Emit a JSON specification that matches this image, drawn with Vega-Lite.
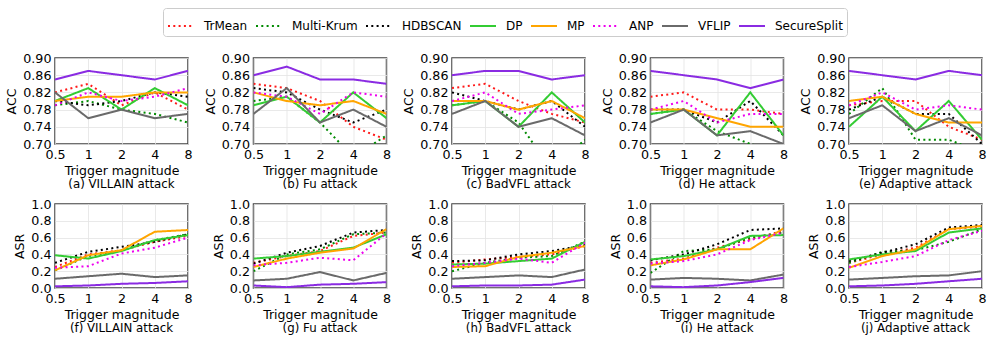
{
"$schema": "https://vega.github.io/schema/vega-lite/v6.json",
"padding": {"left": 5, "top": 7, "right": 6, "bottom": 6},
"bounds": "flush",
"datasets": {
"acc": [
{"c":"(a) VILLAIN attack","m":"TrMean","x":0.5,"y":0.82},{"c":"(a) VILLAIN attack","m":"TrMean","x":1,"y":0.84},{"c":"(a) VILLAIN attack","m":"TrMean","x":2,"y":0.79},{"c":"(a) VILLAIN attack","m":"TrMean","x":4,"y":0.82},{"c":"(a) VILLAIN attack","m":"TrMean","x":8,"y":0.78},
{"c":"(a) VILLAIN attack","m":"Multi-Krum","x":0.5,"y":0.79},{"c":"(a) VILLAIN attack","m":"Multi-Krum","x":1,"y":0.80},{"c":"(a) VILLAIN attack","m":"Multi-Krum","x":2,"y":0.78},{"c":"(a) VILLAIN attack","m":"Multi-Krum","x":4,"y":0.77},{"c":"(a) VILLAIN attack","m":"Multi-Krum","x":8,"y":0.75},
{"c":"(a) VILLAIN attack","m":"HDBSCAN","x":0.5,"y":0.80},{"c":"(a) VILLAIN attack","m":"HDBSCAN","x":1,"y":0.79},{"c":"(a) VILLAIN attack","m":"HDBSCAN","x":2,"y":0.80},{"c":"(a) VILLAIN attack","m":"HDBSCAN","x":4,"y":0.82},{"c":"(a) VILLAIN attack","m":"HDBSCAN","x":8,"y":0.81},
{"c":"(a) VILLAIN attack","m":"DP","x":0.5,"y":0.80},{"c":"(a) VILLAIN attack","m":"DP","x":1,"y":0.83},{"c":"(a) VILLAIN attack","m":"DP","x":2,"y":0.78},{"c":"(a) VILLAIN attack","m":"DP","x":4,"y":0.83},{"c":"(a) VILLAIN attack","m":"DP","x":8,"y":0.79},
{"c":"(a) VILLAIN attack","m":"MP","x":0.5,"y":0.80},{"c":"(a) VILLAIN attack","m":"MP","x":1,"y":0.81},{"c":"(a) VILLAIN attack","m":"MP","x":2,"y":0.81},{"c":"(a) VILLAIN attack","m":"MP","x":4,"y":0.82},{"c":"(a) VILLAIN attack","m":"MP","x":8,"y":0.82},
{"c":"(a) VILLAIN attack","m":"ANP","x":0.5,"y":0.79},{"c":"(a) VILLAIN attack","m":"ANP","x":1,"y":0.82},{"c":"(a) VILLAIN attack","m":"ANP","x":2,"y":0.80},{"c":"(a) VILLAIN attack","m":"ANP","x":4,"y":0.81},{"c":"(a) VILLAIN attack","m":"ANP","x":8,"y":0.83},
{"c":"(a) VILLAIN attack","m":"VFLIP","x":0.5,"y":0.82},{"c":"(a) VILLAIN attack","m":"VFLIP","x":1,"y":0.76},{"c":"(a) VILLAIN attack","m":"VFLIP","x":2,"y":0.78},{"c":"(a) VILLAIN attack","m":"VFLIP","x":4,"y":0.76},{"c":"(a) VILLAIN attack","m":"VFLIP","x":8,"y":0.77},
{"c":"(a) VILLAIN attack","m":"SecureSplit","x":0.5,"y":0.85},{"c":"(a) VILLAIN attack","m":"SecureSplit","x":1,"y":0.87},{"c":"(a) VILLAIN attack","m":"SecureSplit","x":2,"y":0.86},{"c":"(a) VILLAIN attack","m":"SecureSplit","x":4,"y":0.85},{"c":"(a) VILLAIN attack","m":"SecureSplit","x":8,"y":0.87},
{"c":"(b) Fu attack","m":"TrMean","x":0.5,"y":0.84},{"c":"(b) Fu attack","m":"TrMean","x":1,"y":0.83},{"c":"(b) Fu attack","m":"TrMean","x":2,"y":0.80},{"c":"(b) Fu attack","m":"TrMean","x":4,"y":0.74},{"c":"(b) Fu attack","m":"TrMean","x":8,"y":0.71},
{"c":"(b) Fu attack","m":"Multi-Krum","x":0.5,"y":0.80},{"c":"(b) Fu attack","m":"Multi-Krum","x":1,"y":0.81},{"c":"(b) Fu attack","m":"Multi-Krum","x":2,"y":0.75},{"c":"(b) Fu attack","m":"Multi-Krum","x":4,"y":0.67},{"c":"(b) Fu attack","m":"Multi-Krum","x":8,"y":0.72},
{"c":"(b) Fu attack","m":"HDBSCAN","x":0.5,"y":0.83},{"c":"(b) Fu attack","m":"HDBSCAN","x":1,"y":0.82},{"c":"(b) Fu attack","m":"HDBSCAN","x":2,"y":0.78},{"c":"(b) Fu attack","m":"HDBSCAN","x":4,"y":0.75},{"c":"(b) Fu attack","m":"HDBSCAN","x":8,"y":0.78},
{"c":"(b) Fu attack","m":"DP","x":0.5,"y":0.79},{"c":"(b) Fu attack","m":"DP","x":1,"y":0.81},{"c":"(b) Fu attack","m":"DP","x":2,"y":0.75},{"c":"(b) Fu attack","m":"DP","x":4,"y":0.82},{"c":"(b) Fu attack","m":"DP","x":8,"y":0.76},
{"c":"(b) Fu attack","m":"MP","x":0.5,"y":0.82},{"c":"(b) Fu attack","m":"MP","x":1,"y":0.80},{"c":"(b) Fu attack","m":"MP","x":2,"y":0.79},{"c":"(b) Fu attack","m":"MP","x":4,"y":0.80},{"c":"(b) Fu attack","m":"MP","x":8,"y":0.77},
{"c":"(b) Fu attack","m":"ANP","x":0.5,"y":0.82},{"c":"(b) Fu attack","m":"ANP","x":1,"y":0.81},{"c":"(b) Fu attack","m":"ANP","x":2,"y":0.77},{"c":"(b) Fu attack","m":"ANP","x":4,"y":0.82},{"c":"(b) Fu attack","m":"ANP","x":8,"y":0.81},
{"c":"(b) Fu attack","m":"VFLIP","x":0.5,"y":0.77},{"c":"(b) Fu attack","m":"VFLIP","x":1,"y":0.83},{"c":"(b) Fu attack","m":"VFLIP","x":2,"y":0.75},{"c":"(b) Fu attack","m":"VFLIP","x":4,"y":0.78},{"c":"(b) Fu attack","m":"VFLIP","x":8,"y":0.74},
{"c":"(b) Fu attack","m":"SecureSplit","x":0.5,"y":0.86},{"c":"(b) Fu attack","m":"SecureSplit","x":1,"y":0.88},{"c":"(b) Fu attack","m":"SecureSplit","x":2,"y":0.85},{"c":"(b) Fu attack","m":"SecureSplit","x":4,"y":0.85},{"c":"(b) Fu attack","m":"SecureSplit","x":8,"y":0.84},
{"c":"(c) BadVFL attack","m":"TrMean","x":0.5,"y":0.83},{"c":"(c) BadVFL attack","m":"TrMean","x":1,"y":0.84},{"c":"(c) BadVFL attack","m":"TrMean","x":2,"y":0.80},{"c":"(c) BadVFL attack","m":"TrMean","x":4,"y":0.77},{"c":"(c) BadVFL attack","m":"TrMean","x":8,"y":0.75},
{"c":"(c) BadVFL attack","m":"Multi-Krum","x":0.5,"y":0.79},{"c":"(c) BadVFL attack","m":"Multi-Krum","x":1,"y":0.80},{"c":"(c) BadVFL attack","m":"Multi-Krum","x":2,"y":0.75},{"c":"(c) BadVFL attack","m":"Multi-Krum","x":4,"y":0.64},{"c":"(c) BadVFL attack","m":"Multi-Krum","x":8,"y":0.71},
{"c":"(c) BadVFL attack","m":"HDBSCAN","x":0.5,"y":0.82},{"c":"(c) BadVFL attack","m":"HDBSCAN","x":1,"y":0.80},{"c":"(c) BadVFL attack","m":"HDBSCAN","x":2,"y":0.78},{"c":"(c) BadVFL attack","m":"HDBSCAN","x":4,"y":0.80},{"c":"(c) BadVFL attack","m":"HDBSCAN","x":8,"y":0.74},
{"c":"(c) BadVFL attack","m":"DP","x":0.5,"y":0.79},{"c":"(c) BadVFL attack","m":"DP","x":1,"y":0.80},{"c":"(c) BadVFL attack","m":"DP","x":2,"y":0.74},{"c":"(c) BadVFL attack","m":"DP","x":4,"y":0.82},{"c":"(c) BadVFL attack","m":"DP","x":8,"y":0.75},
{"c":"(c) BadVFL attack","m":"MP","x":0.5,"y":0.80},{"c":"(c) BadVFL attack","m":"MP","x":1,"y":0.80},{"c":"(c) BadVFL attack","m":"MP","x":2,"y":0.78},{"c":"(c) BadVFL attack","m":"MP","x":4,"y":0.80},{"c":"(c) BadVFL attack","m":"MP","x":8,"y":0.76},
{"c":"(c) BadVFL attack","m":"ANP","x":0.5,"y":0.80},{"c":"(c) BadVFL attack","m":"ANP","x":1,"y":0.82},{"c":"(c) BadVFL attack","m":"ANP","x":2,"y":0.77},{"c":"(c) BadVFL attack","m":"ANP","x":4,"y":0.78},{"c":"(c) BadVFL attack","m":"ANP","x":8,"y":0.79},
{"c":"(c) BadVFL attack","m":"VFLIP","x":0.5,"y":0.77},{"c":"(c) BadVFL attack","m":"VFLIP","x":1,"y":0.80},{"c":"(c) BadVFL attack","m":"VFLIP","x":2,"y":0.74},{"c":"(c) BadVFL attack","m":"VFLIP","x":4,"y":0.76},{"c":"(c) BadVFL attack","m":"VFLIP","x":8,"y":0.72},
{"c":"(c) BadVFL attack","m":"SecureSplit","x":0.5,"y":0.86},{"c":"(c) BadVFL attack","m":"SecureSplit","x":1,"y":0.87},{"c":"(c) BadVFL attack","m":"SecureSplit","x":2,"y":0.87},{"c":"(c) BadVFL attack","m":"SecureSplit","x":4,"y":0.85},{"c":"(c) BadVFL attack","m":"SecureSplit","x":8,"y":0.86},
{"c":"(d) He attack","m":"TrMean","x":0.5,"y":0.81},{"c":"(d) He attack","m":"TrMean","x":1,"y":0.82},{"c":"(d) He attack","m":"TrMean","x":2,"y":0.78},{"c":"(d) He attack","m":"TrMean","x":4,"y":0.78},{"c":"(d) He attack","m":"TrMean","x":8,"y":0.77},
{"c":"(d) He attack","m":"Multi-Krum","x":0.5,"y":0.77},{"c":"(d) He attack","m":"Multi-Krum","x":1,"y":0.78},{"c":"(d) He attack","m":"Multi-Krum","x":2,"y":0.73},{"c":"(d) He attack","m":"Multi-Krum","x":4,"y":0.70},{"c":"(d) He attack","m":"Multi-Krum","x":8,"y":0.68},
{"c":"(d) He attack","m":"HDBSCAN","x":0.5,"y":0.78},{"c":"(d) He attack","m":"HDBSCAN","x":1,"y":0.78},{"c":"(d) He attack","m":"HDBSCAN","x":2,"y":0.75},{"c":"(d) He attack","m":"HDBSCAN","x":4,"y":0.80},{"c":"(d) He attack","m":"HDBSCAN","x":8,"y":0.72},
{"c":"(d) He attack","m":"DP","x":0.5,"y":0.77},{"c":"(d) He attack","m":"DP","x":1,"y":0.78},{"c":"(d) He attack","m":"DP","x":2,"y":0.72},{"c":"(d) He attack","m":"DP","x":4,"y":0.82},{"c":"(d) He attack","m":"DP","x":8,"y":0.72},
{"c":"(d) He attack","m":"MP","x":0.5,"y":0.78},{"c":"(d) He attack","m":"MP","x":1,"y":0.78},{"c":"(d) He attack","m":"MP","x":2,"y":0.76},{"c":"(d) He attack","m":"MP","x":4,"y":0.74},{"c":"(d) He attack","m":"MP","x":8,"y":0.74},
{"c":"(d) He attack","m":"ANP","x":0.5,"y":0.78},{"c":"(d) He attack","m":"ANP","x":1,"y":0.80},{"c":"(d) He attack","m":"ANP","x":2,"y":0.75},{"c":"(d) He attack","m":"ANP","x":4,"y":0.77},{"c":"(d) He attack","m":"ANP","x":8,"y":0.77},
{"c":"(d) He attack","m":"VFLIP","x":0.5,"y":0.75},{"c":"(d) He attack","m":"VFLIP","x":1,"y":0.78},{"c":"(d) He attack","m":"VFLIP","x":2,"y":0.72},{"c":"(d) He attack","m":"VFLIP","x":4,"y":0.73},{"c":"(d) He attack","m":"VFLIP","x":8,"y":0.70},
{"c":"(d) He attack","m":"SecureSplit","x":0.5,"y":0.87},{"c":"(d) He attack","m":"SecureSplit","x":1,"y":0.86},{"c":"(d) He attack","m":"SecureSplit","x":2,"y":0.85},{"c":"(d) He attack","m":"SecureSplit","x":4,"y":0.83},{"c":"(d) He attack","m":"SecureSplit","x":8,"y":0.85},
{"c":"(e) Adaptive attack","m":"TrMean","x":0.5,"y":0.79},{"c":"(e) Adaptive attack","m":"TrMean","x":1,"y":0.80},{"c":"(e) Adaptive attack","m":"TrMean","x":2,"y":0.80},{"c":"(e) Adaptive attack","m":"TrMean","x":4,"y":0.74},{"c":"(e) Adaptive attack","m":"TrMean","x":8,"y":0.71},
{"c":"(e) Adaptive attack","m":"Multi-Krum","x":0.5,"y":0.77},{"c":"(e) Adaptive attack","m":"Multi-Krum","x":1,"y":0.83},{"c":"(e) Adaptive attack","m":"Multi-Krum","x":2,"y":0.71},{"c":"(e) Adaptive attack","m":"Multi-Krum","x":4,"y":0.71},{"c":"(e) Adaptive attack","m":"Multi-Krum","x":8,"y":0.68},
{"c":"(e) Adaptive attack","m":"HDBSCAN","x":0.5,"y":0.78},{"c":"(e) Adaptive attack","m":"HDBSCAN","x":1,"y":0.81},{"c":"(e) Adaptive attack","m":"HDBSCAN","x":2,"y":0.77},{"c":"(e) Adaptive attack","m":"HDBSCAN","x":4,"y":0.77},{"c":"(e) Adaptive attack","m":"HDBSCAN","x":8,"y":0.70},
{"c":"(e) Adaptive attack","m":"DP","x":0.5,"y":0.74},{"c":"(e) Adaptive attack","m":"DP","x":1,"y":0.81},{"c":"(e) Adaptive attack","m":"DP","x":2,"y":0.73},{"c":"(e) Adaptive attack","m":"DP","x":4,"y":0.80},{"c":"(e) Adaptive attack","m":"DP","x":8,"y":0.71},
{"c":"(e) Adaptive attack","m":"MP","x":0.5,"y":0.80},{"c":"(e) Adaptive attack","m":"MP","x":1,"y":0.81},{"c":"(e) Adaptive attack","m":"MP","x":2,"y":0.77},{"c":"(e) Adaptive attack","m":"MP","x":4,"y":0.75},{"c":"(e) Adaptive attack","m":"MP","x":8,"y":0.75},
{"c":"(e) Adaptive attack","m":"ANP","x":0.5,"y":0.79},{"c":"(e) Adaptive attack","m":"ANP","x":1,"y":0.82},{"c":"(e) Adaptive attack","m":"ANP","x":2,"y":0.78},{"c":"(e) Adaptive attack","m":"ANP","x":4,"y":0.79},{"c":"(e) Adaptive attack","m":"ANP","x":8,"y":0.78},
{"c":"(e) Adaptive attack","m":"VFLIP","x":0.5,"y":0.76},{"c":"(e) Adaptive attack","m":"VFLIP","x":1,"y":0.79},{"c":"(e) Adaptive attack","m":"VFLIP","x":2,"y":0.73},{"c":"(e) Adaptive attack","m":"VFLIP","x":4,"y":0.76},{"c":"(e) Adaptive attack","m":"VFLIP","x":8,"y":0.72},
{"c":"(e) Adaptive attack","m":"SecureSplit","x":0.5,"y":0.87},{"c":"(e) Adaptive attack","m":"SecureSplit","x":1,"y":0.86},{"c":"(e) Adaptive attack","m":"SecureSplit","x":2,"y":0.85},{"c":"(e) Adaptive attack","m":"SecureSplit","x":4,"y":0.87},{"c":"(e) Adaptive attack","m":"SecureSplit","x":8,"y":0.86}
],
"asr": [
{"c":"(f) VILLAIN attack","m":"TrMean","x":0.5,"y":0.25},{"c":"(f) VILLAIN attack","m":"TrMean","x":1,"y":0.40},{"c":"(f) VILLAIN attack","m":"TrMean","x":2,"y":0.45},{"c":"(f) VILLAIN attack","m":"TrMean","x":4,"y":0.55},{"c":"(f) VILLAIN attack","m":"TrMean","x":8,"y":0.62},
{"c":"(f) VILLAIN attack","m":"Multi-Krum","x":0.5,"y":0.21},{"c":"(f) VILLAIN attack","m":"Multi-Krum","x":1,"y":0.38},{"c":"(f) VILLAIN attack","m":"Multi-Krum","x":2,"y":0.45},{"c":"(f) VILLAIN attack","m":"Multi-Krum","x":4,"y":0.57},{"c":"(f) VILLAIN attack","m":"Multi-Krum","x":8,"y":0.64},
{"c":"(f) VILLAIN attack","m":"HDBSCAN","x":0.5,"y":0.30},{"c":"(f) VILLAIN attack","m":"HDBSCAN","x":1,"y":0.43},{"c":"(f) VILLAIN attack","m":"HDBSCAN","x":2,"y":0.49},{"c":"(f) VILLAIN attack","m":"HDBSCAN","x":4,"y":0.55},{"c":"(f) VILLAIN attack","m":"HDBSCAN","x":8,"y":0.64},
{"c":"(f) VILLAIN attack","m":"DP","x":0.5,"y":0.39},{"c":"(f) VILLAIN attack","m":"DP","x":1,"y":0.35},{"c":"(f) VILLAIN attack","m":"DP","x":2,"y":0.44},{"c":"(f) VILLAIN attack","m":"DP","x":4,"y":0.57},{"c":"(f) VILLAIN attack","m":"DP","x":8,"y":0.63},
{"c":"(f) VILLAIN attack","m":"MP","x":0.5,"y":0.21},{"c":"(f) VILLAIN attack","m":"MP","x":1,"y":0.39},{"c":"(f) VILLAIN attack","m":"MP","x":2,"y":0.45},{"c":"(f) VILLAIN attack","m":"MP","x":4,"y":0.67},{"c":"(f) VILLAIN attack","m":"MP","x":8,"y":0.69},
{"c":"(f) VILLAIN attack","m":"ANP","x":0.5,"y":0.24},{"c":"(f) VILLAIN attack","m":"ANP","x":1,"y":0.26},{"c":"(f) VILLAIN attack","m":"ANP","x":2,"y":0.41},{"c":"(f) VILLAIN attack","m":"ANP","x":4,"y":0.48},{"c":"(f) VILLAIN attack","m":"ANP","x":8,"y":0.60},
{"c":"(f) VILLAIN attack","m":"VFLIP","x":0.5,"y":0.11},{"c":"(f) VILLAIN attack","m":"VFLIP","x":1,"y":0.14},{"c":"(f) VILLAIN attack","m":"VFLIP","x":2,"y":0.17},{"c":"(f) VILLAIN attack","m":"VFLIP","x":4,"y":0.13},{"c":"(f) VILLAIN attack","m":"VFLIP","x":8,"y":0.15},
{"c":"(f) VILLAIN attack","m":"SecureSplit","x":0.5,"y":0.02},{"c":"(f) VILLAIN attack","m":"SecureSplit","x":1,"y":0.03},{"c":"(f) VILLAIN attack","m":"SecureSplit","x":2,"y":0.05},{"c":"(f) VILLAIN attack","m":"SecureSplit","x":4,"y":0.06},{"c":"(f) VILLAIN attack","m":"SecureSplit","x":8,"y":0.08},
{"c":"(g) Fu attack","m":"TrMean","x":0.5,"y":0.30},{"c":"(g) Fu attack","m":"TrMean","x":1,"y":0.38},{"c":"(g) Fu attack","m":"TrMean","x":2,"y":0.44},{"c":"(g) Fu attack","m":"TrMean","x":4,"y":0.62},{"c":"(g) Fu attack","m":"TrMean","x":8,"y":0.66},
{"c":"(g) Fu attack","m":"Multi-Krum","x":0.5,"y":0.20},{"c":"(g) Fu attack","m":"Multi-Krum","x":1,"y":0.40},{"c":"(g) Fu attack","m":"Multi-Krum","x":2,"y":0.46},{"c":"(g) Fu attack","m":"Multi-Krum","x":4,"y":0.64},{"c":"(g) Fu attack","m":"Multi-Krum","x":8,"y":0.66},
{"c":"(g) Fu attack","m":"HDBSCAN","x":0.5,"y":0.29},{"c":"(g) Fu attack","m":"HDBSCAN","x":1,"y":0.42},{"c":"(g) Fu attack","m":"HDBSCAN","x":2,"y":0.50},{"c":"(g) Fu attack","m":"HDBSCAN","x":4,"y":0.66},{"c":"(g) Fu attack","m":"HDBSCAN","x":8,"y":0.69},
{"c":"(g) Fu attack","m":"DP","x":0.5,"y":0.35},{"c":"(g) Fu attack","m":"DP","x":1,"y":0.38},{"c":"(g) Fu attack","m":"DP","x":2,"y":0.43},{"c":"(g) Fu attack","m":"DP","x":4,"y":0.48},{"c":"(g) Fu attack","m":"DP","x":8,"y":0.64},
{"c":"(g) Fu attack","m":"MP","x":0.5,"y":0.25},{"c":"(g) Fu attack","m":"MP","x":1,"y":0.35},{"c":"(g) Fu attack","m":"MP","x":2,"y":0.42},{"c":"(g) Fu attack","m":"MP","x":4,"y":0.47},{"c":"(g) Fu attack","m":"MP","x":8,"y":0.70},
{"c":"(g) Fu attack","m":"ANP","x":0.5,"y":0.27},{"c":"(g) Fu attack","m":"ANP","x":1,"y":0.30},{"c":"(g) Fu attack","m":"ANP","x":2,"y":0.36},{"c":"(g) Fu attack","m":"ANP","x":4,"y":0.33},{"c":"(g) Fu attack","m":"ANP","x":8,"y":0.65},
{"c":"(g) Fu attack","m":"VFLIP","x":0.5,"y":0.09},{"c":"(g) Fu attack","m":"VFLIP","x":1,"y":0.11},{"c":"(g) Fu attack","m":"VFLIP","x":2,"y":0.19},{"c":"(g) Fu attack","m":"VFLIP","x":4,"y":0.09},{"c":"(g) Fu attack","m":"VFLIP","x":8,"y":0.18},
{"c":"(g) Fu attack","m":"SecureSplit","x":0.5,"y":0.03},{"c":"(g) Fu attack","m":"SecureSplit","x":1,"y":0.01},{"c":"(g) Fu attack","m":"SecureSplit","x":2,"y":0.04},{"c":"(g) Fu attack","m":"SecureSplit","x":4,"y":0.05},{"c":"(g) Fu attack","m":"SecureSplit","x":8,"y":0.07},
{"c":"(h) BadVFL attack","m":"TrMean","x":0.5,"y":0.30},{"c":"(h) BadVFL attack","m":"TrMean","x":1,"y":0.34},{"c":"(h) BadVFL attack","m":"TrMean","x":2,"y":0.37},{"c":"(h) BadVFL attack","m":"TrMean","x":4,"y":0.40},{"c":"(h) BadVFL attack","m":"TrMean","x":8,"y":0.50},
{"c":"(h) BadVFL attack","m":"Multi-Krum","x":0.5,"y":0.20},{"c":"(h) BadVFL attack","m":"Multi-Krum","x":1,"y":0.30},{"c":"(h) BadVFL attack","m":"Multi-Krum","x":2,"y":0.36},{"c":"(h) BadVFL attack","m":"Multi-Krum","x":4,"y":0.38},{"c":"(h) BadVFL attack","m":"Multi-Krum","x":8,"y":0.55},
{"c":"(h) BadVFL attack","m":"HDBSCAN","x":0.5,"y":0.32},{"c":"(h) BadVFL attack","m":"HDBSCAN","x":1,"y":0.33},{"c":"(h) BadVFL attack","m":"HDBSCAN","x":2,"y":0.40},{"c":"(h) BadVFL attack","m":"HDBSCAN","x":4,"y":0.44},{"c":"(h) BadVFL attack","m":"HDBSCAN","x":8,"y":0.51},
{"c":"(h) BadVFL attack","m":"DP","x":0.5,"y":0.28},{"c":"(h) BadVFL attack","m":"DP","x":1,"y":0.29},{"c":"(h) BadVFL attack","m":"DP","x":2,"y":0.32},{"c":"(h) BadVFL attack","m":"DP","x":4,"y":0.35},{"c":"(h) BadVFL attack","m":"DP","x":8,"y":0.55},
{"c":"(h) BadVFL attack","m":"MP","x":0.5,"y":0.25},{"c":"(h) BadVFL attack","m":"MP","x":1,"y":0.26},{"c":"(h) BadVFL attack","m":"MP","x":2,"y":0.37},{"c":"(h) BadVFL attack","m":"MP","x":4,"y":0.42},{"c":"(h) BadVFL attack","m":"MP","x":8,"y":0.50},
{"c":"(h) BadVFL attack","m":"ANP","x":0.5,"y":0.26},{"c":"(h) BadVFL attack","m":"ANP","x":1,"y":0.30},{"c":"(h) BadVFL attack","m":"ANP","x":2,"y":0.35},{"c":"(h) BadVFL attack","m":"ANP","x":4,"y":0.30},{"c":"(h) BadVFL attack","m":"ANP","x":8,"y":0.54},
{"c":"(h) BadVFL attack","m":"VFLIP","x":0.5,"y":0.11},{"c":"(h) BadVFL attack","m":"VFLIP","x":1,"y":0.13},{"c":"(h) BadVFL attack","m":"VFLIP","x":2,"y":0.15},{"c":"(h) BadVFL attack","m":"VFLIP","x":4,"y":0.13},{"c":"(h) BadVFL attack","m":"VFLIP","x":8,"y":0.22},
{"c":"(h) BadVFL attack","m":"SecureSplit","x":0.5,"y":0.02},{"c":"(h) BadVFL attack","m":"SecureSplit","x":1,"y":0.03},{"c":"(h) BadVFL attack","m":"SecureSplit","x":2,"y":0.03},{"c":"(h) BadVFL attack","m":"SecureSplit","x":4,"y":0.04},{"c":"(h) BadVFL attack","m":"SecureSplit","x":8,"y":0.10},
{"c":"(i) He attack","m":"TrMean","x":0.5,"y":0.30},{"c":"(i) He attack","m":"TrMean","x":1,"y":0.35},{"c":"(i) He attack","m":"TrMean","x":2,"y":0.48},{"c":"(i) He attack","m":"TrMean","x":4,"y":0.58},{"c":"(i) He attack","m":"TrMean","x":8,"y":0.68},
{"c":"(i) He attack","m":"Multi-Krum","x":0.5,"y":0.18},{"c":"(i) He attack","m":"Multi-Krum","x":1,"y":0.44},{"c":"(i) He attack","m":"Multi-Krum","x":2,"y":0.46},{"c":"(i) He attack","m":"Multi-Krum","x":4,"y":0.60},{"c":"(i) He attack","m":"Multi-Krum","x":8,"y":0.66},
{"c":"(i) He attack","m":"HDBSCAN","x":0.5,"y":0.33},{"c":"(i) He attack","m":"HDBSCAN","x":1,"y":0.40},{"c":"(i) He attack","m":"HDBSCAN","x":2,"y":0.52},{"c":"(i) He attack","m":"HDBSCAN","x":4,"y":0.69},{"c":"(i) He attack","m":"HDBSCAN","x":8,"y":0.71},
{"c":"(i) He attack","m":"DP","x":0.5,"y":0.34},{"c":"(i) He attack","m":"DP","x":1,"y":0.38},{"c":"(i) He attack","m":"DP","x":2,"y":0.46},{"c":"(i) He attack","m":"DP","x":4,"y":0.62},{"c":"(i) He attack","m":"DP","x":8,"y":0.63},
{"c":"(i) He attack","m":"MP","x":0.5,"y":0.27},{"c":"(i) He attack","m":"MP","x":1,"y":0.34},{"c":"(i) He attack","m":"MP","x":2,"y":0.46},{"c":"(i) He attack","m":"MP","x":4,"y":0.46},{"c":"(i) He attack","m":"MP","x":8,"y":0.71},
{"c":"(i) He attack","m":"ANP","x":0.5,"y":0.29},{"c":"(i) He attack","m":"ANP","x":1,"y":0.32},{"c":"(i) He attack","m":"ANP","x":2,"y":0.40},{"c":"(i) He attack","m":"ANP","x":4,"y":0.57},{"c":"(i) He attack","m":"ANP","x":8,"y":0.66},
{"c":"(i) He attack","m":"VFLIP","x":0.5,"y":0.10},{"c":"(i) He attack","m":"VFLIP","x":1,"y":0.12},{"c":"(i) He attack","m":"VFLIP","x":2,"y":0.11},{"c":"(i) He attack","m":"VFLIP","x":4,"y":0.09},{"c":"(i) He attack","m":"VFLIP","x":8,"y":0.16},
{"c":"(i) He attack","m":"SecureSplit","x":0.5,"y":0.02},{"c":"(i) He attack","m":"SecureSplit","x":1,"y":0.01},{"c":"(i) He attack","m":"SecureSplit","x":2,"y":0.03},{"c":"(i) He attack","m":"SecureSplit","x":4,"y":0.07},{"c":"(i) He attack","m":"SecureSplit","x":8,"y":0.12},
{"c":"(j) Adaptive attack","m":"TrMean","x":0.5,"y":0.30},{"c":"(j) Adaptive attack","m":"TrMean","x":1,"y":0.40},{"c":"(j) Adaptive attack","m":"TrMean","x":2,"y":0.48},{"c":"(j) Adaptive attack","m":"TrMean","x":4,"y":0.70},{"c":"(j) Adaptive attack","m":"TrMean","x":8,"y":0.73},
{"c":"(j) Adaptive attack","m":"Multi-Krum","x":0.5,"y":0.30},{"c":"(j) Adaptive attack","m":"Multi-Krum","x":1,"y":0.43},{"c":"(j) Adaptive attack","m":"Multi-Krum","x":2,"y":0.45},{"c":"(j) Adaptive attack","m":"Multi-Krum","x":4,"y":0.55},{"c":"(j) Adaptive attack","m":"Multi-Krum","x":8,"y":0.70},
{"c":"(j) Adaptive attack","m":"HDBSCAN","x":0.5,"y":0.32},{"c":"(j) Adaptive attack","m":"HDBSCAN","x":1,"y":0.42},{"c":"(j) Adaptive attack","m":"HDBSCAN","x":2,"y":0.52},{"c":"(j) Adaptive attack","m":"HDBSCAN","x":4,"y":0.72},{"c":"(j) Adaptive attack","m":"HDBSCAN","x":8,"y":0.75},
{"c":"(j) Adaptive attack","m":"DP","x":0.5,"y":0.34},{"c":"(j) Adaptive attack","m":"DP","x":1,"y":0.40},{"c":"(j) Adaptive attack","m":"DP","x":2,"y":0.44},{"c":"(j) Adaptive attack","m":"DP","x":4,"y":0.66},{"c":"(j) Adaptive attack","m":"DP","x":8,"y":0.71},
{"c":"(j) Adaptive attack","m":"MP","x":0.5,"y":0.24},{"c":"(j) Adaptive attack","m":"MP","x":1,"y":0.38},{"c":"(j) Adaptive attack","m":"MP","x":2,"y":0.46},{"c":"(j) Adaptive attack","m":"MP","x":4,"y":0.70},{"c":"(j) Adaptive attack","m":"MP","x":8,"y":0.74},
{"c":"(j) Adaptive attack","m":"ANP","x":0.5,"y":0.25},{"c":"(j) Adaptive attack","m":"ANP","x":1,"y":0.31},{"c":"(j) Adaptive attack","m":"ANP","x":2,"y":0.38},{"c":"(j) Adaptive attack","m":"ANP","x":4,"y":0.57},{"c":"(j) Adaptive attack","m":"ANP","x":8,"y":0.68},
{"c":"(j) Adaptive attack","m":"VFLIP","x":0.5,"y":0.10},{"c":"(j) Adaptive attack","m":"VFLIP","x":1,"y":0.12},{"c":"(j) Adaptive attack","m":"VFLIP","x":2,"y":0.14},{"c":"(j) Adaptive attack","m":"VFLIP","x":4,"y":0.15},{"c":"(j) Adaptive attack","m":"VFLIP","x":8,"y":0.20},
{"c":"(j) Adaptive attack","m":"SecureSplit","x":0.5,"y":0.02},{"c":"(j) Adaptive attack","m":"SecureSplit","x":1,"y":0.03},{"c":"(j) Adaptive attack","m":"SecureSplit","x":2,"y":0.05},{"c":"(j) Adaptive attack","m":"SecureSplit","x":4,"y":0.08},{"c":"(j) Adaptive attack","m":"SecureSplit","x":8,"y":0.11}
]
},
"vconcat": [
{
"data": {"name": "acc"},
"facet": {"column": {"field": "c", "type": "nominal", "title": null, "header": {"labelOrient": "bottom", "labelPadding": 35}}},
"spacing": 65.5,
"bounds": "flush",
"resolve": {"axis": {"x": "independent", "y": "independent"}},
"spec": {
"width": 133, "height": 86,
"mark": {"type": "line", "clip": true, "strokeWidth": 2},
"encoding": {
"x": {"field": "x", "type": "quantitative", "scale": {"type": "log", "base": 2, "domain": [0.5, 8], "nice": false}, "axis": {"values": [0.5, 1, 2, 4, 8], "format": "~g", "title": "Trigger magnitude"}},
"y": {"field": "y", "type": "quantitative", "scale": {"domain": [0.70, 0.90], "nice": false, "zero": false}, "axis": {"values": [0.70, 0.74, 0.78, 0.82, 0.86, 0.90], "format": ".2f", "title": "ACC"}},
"color": {"field": "m", "type": "nominal", "scale": {"domain": ["TrMean", "Multi-Krum", "HDBSCAN", "DP", "MP", "ANP", "VFLIP", "SecureSplit"], "range": ["#ff1a1a", "#008a00", "#000000", "#33cc33", "#ffa500", "#ee00ee", "#6a6a6a", "#8a2be2"]}, "legend": {"orient": "none", "legendX": 108, "legendY": -50, "direction": "horizontal", "columns": 8, "title": null}},
"strokeDash": {"field": "m", "type": "nominal", "scale": {"domain": ["TrMean", "Multi-Krum", "HDBSCAN", "DP", "MP", "ANP", "VFLIP", "SecureSplit"], "range": [[2, 3.3], [2, 3.3], [2, 3.3], [1, 0], [1, 0], [2, 3.3], [1, 0], [1, 0]]}, "legend": {"orient": "none", "legendX": 108, "legendY": -50, "direction": "horizontal", "columns": 8, "title": null}}
}
}
},
{
"data": {"name": "asr"},
"facet": {"column": {"field": "c", "type": "nominal", "title": null, "header": {"labelOrient": "bottom", "labelPadding": 35}}},
"spacing": 65.5,
"bounds": "flush",
"resolve": {"axis": {"x": "independent", "y": "independent"}},
"spec": {
"width": 133, "height": 84,
"mark": {"type": "line", "clip": true, "strokeWidth": 2},
"encoding": {
"x": {"field": "x", "type": "quantitative", "scale": {"type": "log", "base": 2, "domain": [0.5, 8], "nice": false}, "axis": {"values": [0.5, 1, 2, 4, 8], "format": "~g", "title": "Trigger magnitude"}},
"y": {"field": "y", "type": "quantitative", "scale": {"domain": [0, 1], "nice": false}, "axis": {"values": [0, 0.2, 0.4, 0.6, 0.8, 1.0], "format": ".1f", "title": "ASR"}},
"color": {"field": "m", "type": "nominal", "scale": {"domain": ["TrMean", "Multi-Krum", "HDBSCAN", "DP", "MP", "ANP", "VFLIP", "SecureSplit"], "range": ["#ff1a1a", "#008a00", "#000000", "#33cc33", "#ffa500", "#ee00ee", "#6a6a6a", "#8a2be2"]}, "legend": {"orient": "none", "legendX": 108, "legendY": -50, "direction": "horizontal", "columns": 8, "title": null}},
"strokeDash": {"field": "m", "type": "nominal", "scale": {"domain": ["TrMean", "Multi-Krum", "HDBSCAN", "DP", "MP", "ANP", "VFLIP", "SecureSplit"], "range": [[2, 3.3], [2, 3.3], [2, 3.3], [1, 0], [1, 0], [2, 3.3], [1, 0], [1, 0]]}, "legend": {"orient": "none", "legendX": 108, "legendY": -50, "direction": "horizontal", "columns": 8, "title": null}}
}
}
}
],
"spacing": 146,
"config": {
"font": "DejaVu Sans",
"view": {"stroke": "#404040", "strokeWidth": 1.5},
"axis": {"grid": true, "gridColor": "#e3e3e3", "gridWidth": 0.8, "domain": false, "ticks": false, "labelFontSize": 12.7, "titleFontSize": 12.5, "titleFontWeight": "normal", "labelColor": "#000000", "titleColor": "#000000", "labelPadding": 4, "titlePadding": 4, "labelFlush": false, "labelOverlap": false},
"header": {"labelFontSize": 11.8, "labelColor": "#000000"},
"legend": {"labelFontSize": 12, "labelColor": "#000000", "strokeColor": "#cccccc", "padding": 4, "cornerRadius": 3, "symbolStrokeWidth": 2, "symbolSize": 676, "symbolType": "M-1,0H1", "columnPadding": 4, "labelOffset": 9}
}
}
